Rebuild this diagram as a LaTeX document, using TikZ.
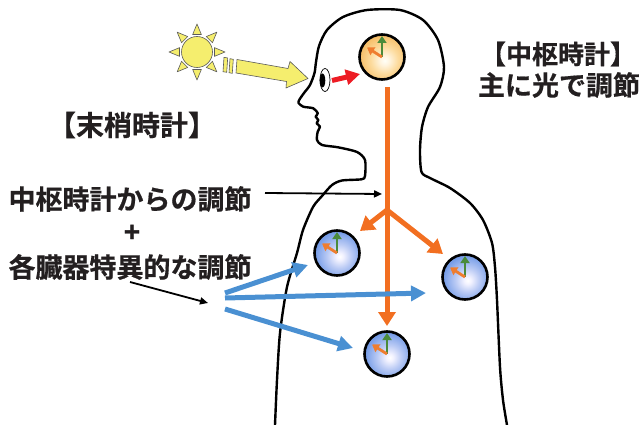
\documentclass[tikz,border=0pt]{standalone}
\usepackage{fontspec}
\usetikzlibrary{arrows.meta,calc,shapes.geometric}
\newfontfamily\jpfont{Noto Sans CJK JP}[BoldFont={* Bold}, BoldFeatures={FakeBold=0.6}]
\newfontfamily\plusfont{Liberation Sans}[BoldFeatures={FakeBold=1}]

\definecolor{inkgray}{HTML}{231F20}
\definecolor{nerve}{HTML}{F26F21}
\definecolor{organblue}{HTML}{4A90D2}
\definecolor{lightred}{HTML}{ED1C24}
\definecolor{sunyellow}{HTML}{F5EE6E}
\definecolor{handgreen}{HTML}{4A8B3B}
\definecolor{handorange}{HTML}{EF7D2F}

\pgfdeclareradialshading{bluedial}{\pgfpoint{3bp}{-4bp}}{%
  rgb(0bp)=(1,1,1); rgb(4bp)=(0.95,0.95,1); rgb(13bp)=(0.74,0.80,0.96);
  rgb(26bp)=(0.47,0.62,0.91); rgb(50bp)=(0.33,0.50,0.86); rgb(100bp)=(0.33,0.50,0.86)}
\pgfdeclareradialshading{amberdial}{\pgfpoint{3bp}{-4bp}}{%
  rgb(0bp)=(1,1,0.97); rgb(5bp)=(1,0.96,0.88); rgb(15bp)=(0.99,0.86,0.62);
  rgb(30bp)=(0.96,0.72,0.36); rgb(50bp)=(0.94,0.65,0.26); rgb(100bp)=(0.94,0.65,0.26)}

\newcommand\dialhands[1]{%
  \draw[greenhand] (#1.center) -- ++(0,-21);
  \draw[orangehand] (#1.center) -- ++(-15,-9.5);}

\begin{document}
\begin{tikzpicture}[x=1pt,y=-1pt,
  jptext/.style={inner sep=0pt, text=inkgray, font=\jpfont\bfseries},
  bodyline/.style={draw=black, line width=2.4pt, line join=round, line cap=round},
  dial/.style={circle, minimum size=45pt, inner sep=0pt, draw=black, line width=2.6pt},
  bluedialstyle/.style={dial, shading=bluedial},
  amberdialstyle/.style={dial, shading=amberdial},
  greenhand/.style={draw=handgreen, line width=2.8pt, -{Triangle[width=9pt,length=7pt]}},
  orangehand/.style={draw=handorange, line width=2.8pt, -{Triangle[width=9pt,length=7pt]}},
  nervearrow/.style={draw=nerve, line width=5pt, -{Triangle[width=17pt,length=14pt]}},
  organarrow/.style={draw=organblue, line width=5pt, -{Triangle[width=15pt,length=15pt]}},
  pointer/.style={draw=black, line width=1.8pt, -{Triangle[width=7pt,length=8pt]}},
  sunpart/.style={fill=sunyellow, draw=black!65, line width=0.6pt, line join=round}]

\useasboundingbox (0,0) rectangle (640,425);

% body silhouette
\draw[bodyline] plot[smooth, tension=0.45] coordinates {
  (275,425) (277,380) (280,333) (287,287) (297,253) (303,230) (313,207)
  (322,196) (332,185) (342,180.5) (361.5,179.3) (365,176) (365,160)
  (357,152) (338,147.3) (322,145) (317,140) (317.7,131.7) (320,126.7)
  (316.7,123.3) (318.3,120) (315.7,116.7) (317.7,113.3) (313.3,108.3)
  (303.3,106.7) (298.5,103) (299.5,99.5) (304,93) (310,85) (314.5,73)
  (316,62) (319,46) (327,30) (343,17) (367,10) (400,10) (423,20) (438,40)
  (444,67) (440,87) (428,107) (422,127) (420,150) (421.5,172) (430,178)
  (450,188) (470,203) (483,220) (492,243) (495,267) (497,300) (500,367)
  (503,400) (507,425)};

% sun
\node[circle, minimum size=31pt, inner sep=0pt, sunpart] (sun) at (197,52) {};
\foreach \a in {0,45,...,315}
  \draw[sunpart] ($(sun.center)+(\a:28)$) -- ($(sun.center)+(\a+14:18)$)
                 -- ($(sun.center)+(\a-14:18)$) -- cycle;

% light beam
\draw[sunpart] (224,57.3) -- (227.7,58) -- (226.7,72.3) -- (223,71.7) -- cycle;
\draw[sunpart] (230,58.7) -- (233.3,59.3) -- (232.3,73.3) -- (229,72.7) -- cycle;
\draw[sunpart] (237,59.5) -- (288,68.5) -- (290,61.5) -- (308,78.5) -- (286,88)
  -- (286.5,81.5) -- (236,73) -- cycle;

% eye
\node[ellipse, draw=black, line width=0.7pt, fill=white, minimum width=10pt,
  minimum height=23pt, inner sep=0pt] (eye) at (325,80) {};
\fill[black] (322.5,80.5) ellipse [x radius=2.8, y radius=7];

% clocks
\node[amberdialstyle] (brain) at (382,57) {};
\node[bluedialstyle] (organL) at (337,253) {};
\node[bluedialstyle] (organR) at (465,277) {};
\node[bluedialstyle] (organB) at (387,354) {};
\dialhands{brain}
\dialhands{organL}
\dialhands{organR}
\dialhands{organB}

% light to the central clock
\coordinate (redtail) at (332,80.5);
\coordinate (redtip) at (360,74);
\draw[draw=lightred, line width=5pt, -{Triangle[width=15pt,length=14pt]}] (redtail) -- (redtip);

% central clock output
\coordinate (spinetop) at (387,87);
\coordinate (spinefork) at (387,210);
\coordinate (spineend) at (387,326);
\coordinate (forkL) at (360,231);
\coordinate (forkR) at (443,254);
\draw[nervearrow] (spinetop) -- (spineend);
\draw[nervearrow] (spinefork) -- (forkL);
\draw[nervearrow] (spinefork) -- (forkR);

% organ-specific inputs
\coordinate (srcA) at (225,293);
\coordinate (srcB) at (225,298);
\coordinate (srcC) at (225,309);
\coordinate (tipA) at (308,265);
\coordinate (tipB) at (426,293);
\coordinate (tipC) at (353,348);
\draw[organarrow] (srcA) -- (tipA);
\draw[organarrow] (srcB) -- (tipB);
\draw[organarrow] (srcC) -- (tipC);

% labels
\node[jptext, font=\jpfont\bfseries\fontsize{28}{30}\selectfont] (periph) at (132,125) {【末梢時計】};
\node[jptext, font=\jpfont\bfseries\fontsize{26}{28}\selectfont] (central) at (558,54) {【中枢時計】};
\node[jptext, font=\jpfont\bfseries\fontsize{27}{29}\selectfont] (light) at (559,85) {主に光で調節};
\node[jptext, font=\jpfont\bfseries\fontsize{27}{29}\selectfont] (fromcenter) at (130,199) {中枢時計からの調節};
\node[jptext, font=\plusfont\bfseries\fontsize{28}{30}\selectfont] (plus) at (132,233) {+};
\node[jptext, font=\jpfont\bfseries\fontsize{27}{29}\selectfont] (specific) at (130,267) {各臓器特異的な調節};

% pointers
\coordinate (ptrAstart) at (265,193);
\coordinate (ptrA) at (382,194);
\coordinate (ptrBstart) at (130,282);
\coordinate (ptrB) at (208,303);
\draw[pointer] (ptrAstart) -- (ptrA);
\draw[pointer] (ptrBstart) -- (ptrB);

\end{tikzpicture}
\end{document}
